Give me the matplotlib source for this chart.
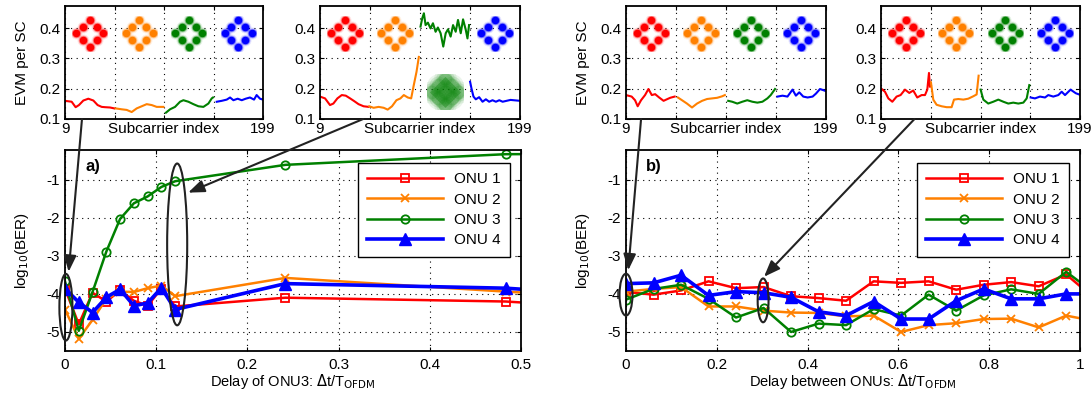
import numpy as np
import matplotlib.pyplot as plt
from matplotlib.patches import Ellipse, ConnectionPatch, ArrowStyle

plt.rcParams['font.family'] = ['Liberation Sans', 'DejaVu Sans']
plt.rcParams['axes.unicode_minus'] = False
plt.rcParams['font.size'] = 10.5

onu_labels = ['ONU 1', 'ONU 2', 'ONU 3', 'ONU 4']
onu_colors = ['#ff0000', '#ff8000', '#008000', '#0000ff']

# panel a) delay of ONU3 (last point lies beyond the axis and is clipped)
delay_a = [0, 0.0151, 0.0302, 0.0453, 0.0604, 0.0755, 0.0906, 0.1057, 0.1208, 0.2416, 0.4832, 0.9664]
ber_a_onu1 = [-3.86, -4.80, -3.97, -4.20, -3.91, -4.18, -4.31, -3.86, -4.33, -4.10, -4.20, -4.90]
ber_a_onu2 = [-4.41, -5.18, -4.68, -4.13, -3.94, -3.95, -3.85, -3.78, -4.06, -3.58, -3.94, -4.60]
ber_a_onu3 = [-3.67, -4.97, -3.95, -2.89, -2.03, -1.62, -1.44, -1.19, -1.04, -0.61, -0.33, -0.30]
ber_a_onu4 = [-3.86, -4.22, -4.49, -4.09, -3.88, -4.31, -4.24, -3.84, -4.41, -3.73, -3.85, -4.60]

# panel b) delay between ONUs (last point clipped)
delay_b = [0, 0.0606, 0.1212, 0.1818, 0.2424, 0.3030, 0.3636, 0.4242, 0.4848, 0.5454,
           0.6060, 0.6666, 0.7272, 0.7878, 0.8484, 0.9090, 0.9696, 1.0302]
ber_b_onu1 = [-3.95, -4.02, -3.91, -3.67, -3.85, -3.82, -4.06, -4.11, -4.18, -3.67,
              -3.71, -3.67, -3.89, -3.76, -3.69, -3.80, -3.49, -4.10]
ber_b_onu2 = [-3.94, -3.87, -3.82, -4.33, -4.33, -4.44, -4.49, -4.50, -4.59, -4.57,
              -5.00, -4.82, -4.77, -4.66, -4.65, -4.88, -4.57, -4.71]
ber_b_onu3 = [-4.15, -3.87, -3.76, -4.13, -4.62, -4.37, -5.00, -4.78, -4.82, -4.40,
              -4.57, -4.02, -4.44, -4.04, -3.88, -4.00, -3.42, -3.96]
ber_b_onu4 = [-3.73, -3.71, -3.51, -4.04, -3.94, -3.97, -4.09, -4.47, -4.57, -4.20,
              -4.66, -4.66, -4.18, -3.87, -4.13, -4.13, -4.00, -4.00]

# EVM per subcarrier, one list per ONU band
sc_a0 = [[9, 15.4, 19.2, 22.4, 26.6, 31.4, 36.2, 40.3, 44.2, 47.4, 52.2, 56.3],
         [57.6, 63.4, 68.2, 73.0, 77.8, 82.6, 87.4, 92.2, 97.0, 103.4],
         [105.9, 109.8, 114.6, 119.4, 122.6, 127.4, 132.2, 137.0, 141.8, 146.6, 149.8, 151.0],
         [154.6, 159.4, 164.2, 167.4, 170.6, 174.7, 178.6, 182.4, 186.5, 190.4, 192.9, 196.1, 199]]
evm_a0 = [[0.160, 0.157, 0.139, 0.146, 0.161, 0.167, 0.161, 0.146, 0.140, 0.139, 0.138, 0.135],
          [0.135, 0.132, 0.130, 0.123, 0.135, 0.142, 0.149, 0.146, 0.140, 0.140],
          [0.121, 0.132, 0.140, 0.157, 0.162, 0.157, 0.149, 0.142, 0.140, 0.151, 0.168, 0.171],
          [0.157, 0.160, 0.164, 0.171, 0.162, 0.167, 0.162, 0.167, 0.171, 0.164, 0.179, 0.167, 0.164]]

sc_a1 = [[9, 13.8, 18.5, 21.7, 25.5, 29.7, 33.5, 37.6, 41.5, 45.6, 50.4, 55.2],
         [55.8, 59.9, 64.7, 69.5, 73.3, 77.4, 81.6, 85.4, 88.6, 92.4, 95.6, 98.1, 100.7, 102.9],
         [104.5, 106.1, 107.7, 109.3, 111.5, 114.0, 116.3, 118.8, 121.0, 123.6, 126.1,
          128.4, 130.6, 133.1, 135.4, 137.9, 140.1, 142.7, 144.9, 147.5, 149.1, 150.6],
         [151.6, 152.9, 154.8, 157.0, 160.2, 163.4, 166.6, 169.7, 172.9, 176.1, 179.3, 182.5, 190, 199]]
evm_a1 = [[0.174, 0.168, 0.146, 0.151, 0.168, 0.179, 0.177, 0.168, 0.159, 0.149, 0.142, 0.140],
          [0.142, 0.137, 0.140, 0.137, 0.131, 0.142, 0.162, 0.168, 0.179, 0.171, 0.168, 0.212, 0.256, 0.305],
          [0.405, 0.432, 0.449, 0.410, 0.418, 0.399, 0.416, 0.388, 0.402, 0.383, 0.339,
           0.383, 0.396, 0.372, 0.410, 0.388, 0.427, 0.383, 0.429, 0.394, 0.366, 0.410],
          [0.223, 0.201, 0.174, 0.165, 0.172, 0.157, 0.165, 0.157, 0.162, 0.157, 0.162, 0.157, 0.163, 0.160]]

sc_b0 = [[9, 14.4, 17.6, 20.1, 23.3, 27.1, 30.3, 33.5, 36.7, 40.5, 44.7, 47.8, 51.0, 55.2],
         [58.3, 62.2, 66.9, 71.7, 76.5, 81.3, 86.0, 90.8, 95.6, 100.4, 102.9],
         [106.1, 109.9, 114.7, 119.5, 124.2, 129.0, 133.8, 138.6, 143.3, 146.5, 150.6],
         [152.9, 157.7, 162.4, 167.2, 170.4, 173.6, 177.4, 181.5, 186.3, 189.5, 193.3, 199]]
evm_b0 = [[0.179, 0.174, 0.162, 0.142, 0.162, 0.179, 0.199, 0.179, 0.182, 0.171, 0.160, 0.165, 0.170, 0.174],
          [0.171, 0.162, 0.151, 0.138, 0.151, 0.160, 0.166, 0.168, 0.170, 0.175, 0.179],
          [0.160, 0.157, 0.151, 0.157, 0.162, 0.157, 0.154, 0.157, 0.168, 0.179, 0.199],
          [0.174, 0.177, 0.174, 0.197, 0.177, 0.188, 0.174, 0.171, 0.174, 0.184, 0.199, 0.192]]

sc_b1 = [[9, 12.8, 16.0, 19.8, 23.9, 27.7, 31.9, 36.0, 39.8, 43.6, 47.8, 51.0, 53.2, 54.8, 55.7],
         [56.7, 58.9, 62.1, 66.9, 71.7, 76.4, 78.7, 82.8, 87.6, 92.3, 97.1, 100.3, 102.2],
         [104.1, 106.7, 111.4, 116.2, 121.0, 125.8, 130.5, 135.3, 140.1, 144.9, 148.1, 150.6],
         [151.9, 156.0, 160.8, 165.6, 168.7, 173.5, 178.3, 181.5, 184.7, 190, 195, 199]]
evm_b1 = [[0.201, 0.190, 0.168, 0.157, 0.174, 0.179, 0.197, 0.186, 0.194, 0.171, 0.179, 0.179, 0.197, 0.252, 0.207],
          [0.221, 0.164, 0.147, 0.142, 0.139, 0.139, 0.164, 0.166, 0.164, 0.167, 0.175, 0.181, 0.243],
          [0.197, 0.164, 0.151, 0.157, 0.164, 0.157, 0.151, 0.154, 0.151, 0.154, 0.168, 0.212],
          [0.171, 0.168, 0.174, 0.171, 0.179, 0.174, 0.179, 0.190, 0.179, 0.197, 0.185, 0.180]]

# 8-point constellation (ideal points)
const_i = [0, -1, 1, -2, 2, -1, 1, 0]
const_q = [2, 1, 1, 0, 0, -1, -1, -2]

band_edges = [9, 56.5, 104, 151.5, 199]

fig = plt.figure(figsize=(10.91, 3.95), dpi=100)
W, H = 1091, 395


def px_axes(x0, x1, y0, y1):
    return fig.add_axes([x0 / W, 1 - y1 / H, (x1 - x0) / W, (y1 - y0) / H])


def style_box(ax):
    for s in ax.spines.values():
        s.set_linewidth(1.3)
    ax.tick_params(direction='in', length=3, width=0.8, top=True, right=True, labelsize=11)
    ax.grid(True, color='k', lw=0.8, ls=(0, (1, 4)))


def draw_const(ax, xc, yc, color, cloud=False):
    sub = ax.inset_axes([xc - 17, yc - 0.058, 34, 0.116], transform=ax.transData)
    sub.set_xlim(-2.6, 2.6)
    sub.set_ylim(-2.6, 2.6)
    sub.axis('off')
    if cloud:
        lat_i = const_i + [0]
        lat_q = const_q + [0]
        for s, a in [(260, 0.08), (170, 0.12), (100, 0.18)]:
            sub.scatter(lat_i, lat_q, s=s, color=color, alpha=a, lw=0)
        for s, a in [(500, 0.25), (250, 0.35)]:
            sub.scatter([0], [0], s=s, marker='D', color=color, alpha=a, lw=0)
    else:
        for s, a in [(75, 0.1), (48, 0.4), (30, 1.0)]:
            sub.scatter(const_i, const_q, s=s, color=color, alpha=a, lw=0)


def draw_inset(ax, sc, evm, ylabel, const_bands, cloud_band=None):
    for k in range(4):
        ax.plot(sc[k], evm[k], color=onu_colors[k], lw=1.5)
    ax.set_xlim(9, 199)
    ax.set_ylim(0.1, 0.473)
    ax.set_xticks(band_edges)
    ax.set_xticklabels(['9', '', '', '', '199'])
    ax.set_yticks([0.1, 0.2, 0.3, 0.4])
    style_box(ax)
    ax.tick_params(axis='x', pad=2)
    ax.set_xlabel('Subcarrier index', fontsize=11)
    ax.xaxis.set_label_coords(0.5, -0.03)
    if ylabel:
        ax.set_ylabel('EVM per SC', fontsize=11, labelpad=7)
    for k in const_bands:
        xc = (band_edges[k] + band_edges[k + 1]) / 2
        draw_const(ax, xc, 0.383, onu_colors[k])
    if cloud_band is not None:
        xc = (band_edges[cloud_band] + band_edges[cloud_band + 1]) / 2
        draw_const(ax, xc, 0.19, onu_colors[cloud_band], cloud=True)


def draw_main(ax, x, series, xmax, xticks, xlabel, tag):
    markers = [dict(marker='s', mfc='none', ms=6, mew=1.3, lw=1.8),
               dict(marker='x', ms=6, mew=1.3, lw=1.8),
               dict(marker='o', mfc='none', ms=6, mew=1.3, lw=1.8),
               dict(marker='^', ms=8, lw=2.6)]
    for k in range(4):
        ax.plot(x, series[k], color=onu_colors[k], label=onu_labels[k], **markers[k])
    ax.set_xlim(0, xmax)
    ax.set_ylim(-5.5, -0.22)
    ax.set_xticks(xticks)
    ax.set_xticklabels([f'{t:g}' for t in xticks])
    ax.set_yticks([-5, -4, -3, -2, -1])
    style_box(ax)
    ax.tick_params(axis='x', pad=5)
    ax.set_xlabel(xlabel, fontsize=10.5, labelpad=0)
    ax.set_ylabel('log$_{10}$(BER)', fontsize=11, labelpad=11)
    ax.text(0.045, 0.92, tag, transform=ax.transAxes, fontsize=12, fontweight='bold', va='center')
    leg = ax.legend(loc='upper right', bbox_to_anchor=(0.975, 0.935), fancybox=False,
                    edgecolor='k', framealpha=1, handlelength=5.0, fontsize=11,
                    labelspacing=0.42, borderpad=0.6, handletextpad=0.7, borderaxespad=0)
    leg.get_frame().set_linewidth(1.0)


def ellipse(ax, xc, yc, w, h):
    ax.add_patch(Ellipse((xc, yc), w, h, fill=False, ec='#222222', lw=1.5, clip_on=False, zorder=5))


def arrow(ax_from, xy_from, ax_to, xy_to):
    style = ArrowStyle('-|>', head_length=0.65, head_width=0.25)
    con = ConnectionPatch(xyA=xy_from, coordsA=ax_from.transData, xyB=xy_to, coordsB=ax_to.transData,
                          arrowstyle=style, mutation_scale=15, color='#222222', lw=1.5, zorder=10)
    fig.add_artist(con)


ax_a = px_axes(65, 521, 150, 351)
ax_b = px_axes(626, 1080, 150, 351)
in_a0 = px_axes(65, 263, 6, 119)
in_a1 = px_axes(320, 520, 6, 119)
in_b0 = px_axes(626, 826, 6, 119)
in_b1 = px_axes(881, 1080, 6, 119)

draw_main(ax_a, delay_a, [ber_a_onu1, ber_a_onu2, ber_a_onu3, ber_a_onu4], 0.5,
          [0, 0.1, 0.2, 0.3, 0.4, 0.5], 'Delay of ONU3: $\\Delta$t/T$_{\\rm OFDM}$', 'a)')
draw_main(ax_b, delay_b, [ber_b_onu1, ber_b_onu2, ber_b_onu3, ber_b_onu4], 1.0,
          [0, 0.2, 0.4, 0.6, 0.8, 1], 'Delay between ONUs: $\\Delta$t/T$_{\\rm OFDM}$', 'b)')

draw_inset(in_a0, sc_a0, evm_a0, True, [0, 1, 2, 3])
draw_inset(in_a1, sc_a1, evm_a1, False, [0, 1, 3], cloud_band=2)
draw_inset(in_b0, sc_b0, evm_b0, True, [0, 1, 2, 3])
draw_inset(in_b1, sc_b1, evm_b1, False, [0, 1, 2, 3])

ellipse(ax_a, 0.001, -4.35, 0.0143, 1.75)
ellipse(ax_a, 0.123, -2.70, 0.022, 4.25)
ellipse(ax_b, 0.0, -4.02, 0.0286, 1.10)
ellipse(ax_b, 0.302, -4.17, 0.024, 1.15)

arrow(in_a0, (25.3, 0.1), ax_a, (0.004, -3.42))
arrow(in_a1, (50, 0.1), ax_a, (0.135, -1.34))
arrow(in_b0, (23.3, 0.1), ax_b, (0.005, -3.38))
arrow(in_b1, (41, 0.1), ax_b, (0.304, -3.55))

fig.savefig('out.png', dpi=100)
